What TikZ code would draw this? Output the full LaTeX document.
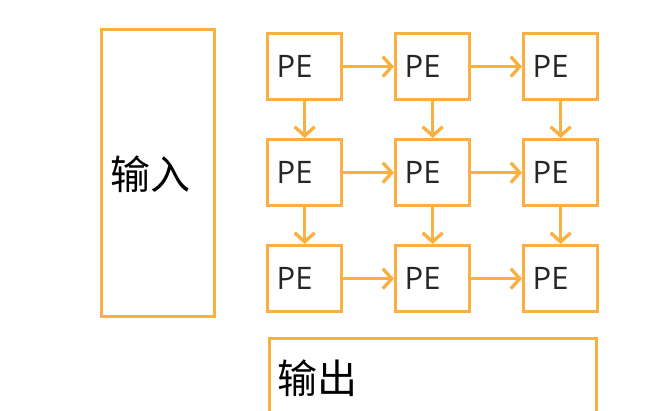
\documentclass[tikz,border=0pt]{standalone}
\usepackage{fontspec}
\setmainfont{Open Sans}
\newfontfamily\cjk{Noto Sans CJK SC}
\usetikzlibrary{arrows.meta}
\definecolor{org}{HTML}{F9B041}
\begin{document}
\begin{tikzpicture}[x=1pt,y=-1pt,
  box/.style={draw=org,line width=3.3pt},
  pe/.style={box,minimum width=74pt,minimum height=66pt,inner sep=0pt,anchor=north west,font=\fontsize{31}{31}\selectfont,text=black!85},
  arr/.style={draw=org,line width=3.3pt,-{Straight Barb[length=9pt,width=20pt,line width=3.3pt]}}]
\useasboundingbox (0,0) rectangle (667,410);
\clip (0,0) rectangle (667,410);
\node[box,minimum width=113pt,minimum height=287pt,anchor=north west,inner sep=0pt] (in) at (100,28) {};
\node[font=\cjk\fontsize{40}{40}\selectfont,anchor=west] (inl) at (107,174) {输入};
\foreach \c/\x in {1/266,2/394,3/522}{
  \foreach \r/\y in {1/32,2/138,3/244}{
    \node[pe] (p\r\c) at (\x,\y) {\hspace*{-20pt}PE};
  }}
\foreach \r in {1,2,3}{
  \draw[arr] (p\r1.east) -- (p\r2.west);
  \draw[arr] (p\r2.east) -- (p\r3.west);}
\foreach \c in {1,2,3}{
  \draw[arr] (p1\c.south) -- (p2\c.north);
  \draw[arr] (p2\c.south) -- (p3\c.north);}
\node[box,minimum width=327pt,minimum height=100pt,anchor=north west,inner sep=0pt] (out) at (268,337) {};
\node[font=\cjk\fontsize{40}{40}\selectfont,anchor=west] (outl) at (274,378) {输出};
\end{tikzpicture}
\end{document}
